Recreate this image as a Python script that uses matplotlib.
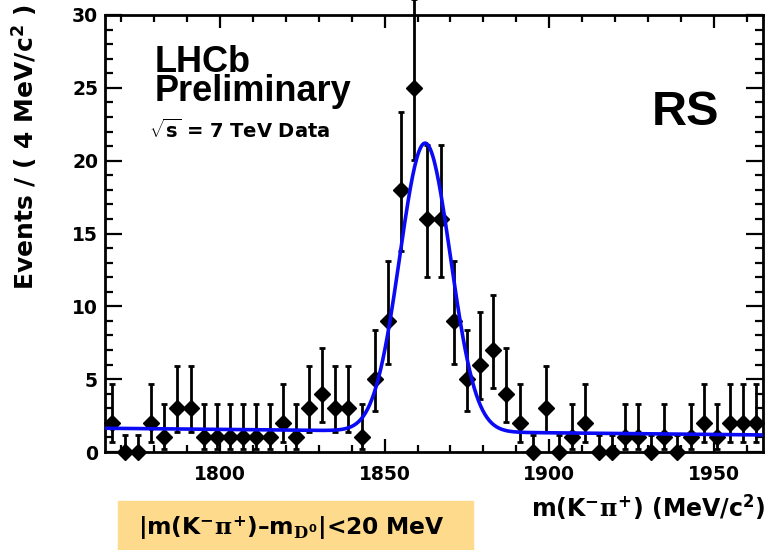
import math
import numpy as np
import matplotlib
matplotlib.use("Agg")
import matplotlib.pyplot as plt
from matplotlib.ticker import MultipleLocator

# events per 4 MeV bin, 1765 - 1965 MeV/c^2
bin_lo = 1765.0
bin_w = 4.0
counts = [2, 0, 0, 2, 1, 3, 3, 1, 1, 1,
          1, 1, 1, 2, 1, 3, 4, 3, 3, 1,
          5, 9, 18, 25, 16, 16, 9, 5, 6, 7,
          4, 2, 0, 3, 0, 1, 2, 0, 0, 1,
          1, 0, 1, 0, 1, 2, 1, 2, 2, 2]

# fitted shape: gaussian signal on a linear background
sig_mean = 1862.3
sig_width = 7.7
sig_amp = 19.8
bkg_at_lo = 1.63
bkg_slope = -0.0023

x_ticks = [1800, 1850, 1900, 1950]
y_ticks = [0, 5, 10, 15, 20, 25, 30]

CL = 0.6827


def pois_cdf(n, mu):
    s = 0.0
    term = math.exp(-mu)
    for k in range(n + 1):
        if k > 0:
            term *= mu / k
        s += term
    return s


def solve(f, a, b):
    # plain bisection, f increasing between a and b
    for _ in range(80):
        m = 0.5 * (a + b)
        if f(m) > 0:
            b = m
        else:
            a = m
    return 0.5 * (a + b)


def pois_interval(n):
    if n == 0:
        return 0.0, -math.log(1 - CL)
    tail = (1 - CL) / 2
    lo = solve(lambda mu: (1 - pois_cdf(n - 1, mu)) - tail, 0.0, n + 5)
    hi = solve(lambda mu: tail - pois_cdf(n, mu), n, n + 10 * math.sqrt(n) + 10)
    return lo, hi


centers = bin_lo + bin_w * (np.arange(len(counts)) + 0.5)
yv = np.array(counts, dtype=float)
err_lo, err_hi = [], []
for n in counts:
    lo, hi = pois_interval(n)
    err_lo.append(n - lo)
    err_hi.append(hi - n)

plt.rcParams['font.family'] = 'DejaVu Sans'
plt.rcParams['font.weight'] = 'bold'
plt.rcParams['mathtext.fontset'] = 'custom'
plt.rcParams['mathtext.rm'] = 'DejaVu Sans:bold'
plt.rcParams['mathtext.bf'] = 'DejaVu Sans:bold'
plt.rcParams['mathtext.it'] = 'DejaVu Serif'

fig = plt.figure(figsize=(7.69, 5.5), dpi=100)
ax = fig.add_axes([105 / 769, 1 - 452 / 550, 658 / 769, 437 / 550])

xx = np.linspace(bin_lo, bin_lo + bin_w * len(counts), 600)
model = bkg_at_lo + bkg_slope * (xx - bin_lo) + sig_amp * np.exp(-0.5 * ((xx - sig_mean) / sig_width) ** 2)

ax.errorbar(centers, yv, yerr=[err_lo, err_hi], fmt='D', color='black', ms=8.5,
            elinewidth=2.0, capsize=2.5, capthick=2.0, clip_on=False, zorder=3)
ax.plot(xx, model, color='#0a0af5', lw=2.6, zorder=4)

ax.set_xlim(bin_lo, bin_lo + bin_w * len(counts))
ax.set_ylim(0, 30)
ax.set_xticks(x_ticks)
ax.set_yticks(y_ticks)
ax.xaxis.set_minor_locator(MultipleLocator(10))
ax.yaxis.set_minor_locator(MultipleLocator(1))
ax.tick_params(which='both', direction='in', top=True, right=True, width=1.6, labelsize=13.5)
ax.tick_params(axis='x', which='major', length=9.5, pad=9)
ax.tick_params(axis='x', which='minor', length=5)
ax.tick_params(axis='y', which='major', length=12, pad=5)
ax.tick_params(axis='y', which='minor', length=6)
for s in ax.spines.values():
    s.set_linewidth(2)

# texts
fig.text(155 / 769, 1 - 101 / 550, 'LHCb\nPreliminary', fontsize=26, family='Liberation Sans',
         linespacing=0.76, ha='left', va='baseline')
fig.text(149 / 769, 1 - 138 / 550, r'$\sqrt{\mathrm{s}}$ = 7 TeV Data', fontsize=14, ha='left', va='baseline')
fig.text(652 / 769, 1 - 125 / 550, 'RS', fontsize=35, family='Liberation Sans', ha='left', va='baseline')

fig.text(24 / 769, 1 - 4 / 550, r'Events / ( 4 MeV/c$^{2}$ )', fontsize=18, rotation=90,
         ha='center', va='top')
fig.text(766 / 769, 1 - 517 / 550, r'm(K$^{-}\pi^{+}$) (MeV/c$^{2}$)', fontsize=17,
         ha='right', va='baseline')

fig.patches.append(plt.Rectangle((118 / 769, 0), (473 - 118) / 769, 49 / 550,
                                 transform=fig.transFigure, color='#fdda8c', zorder=0))
fig.text(138 / 769, 1 - 535 / 550, r'|m(K$^{-}\pi^{+}$)–m$_{D^{0}}$|<20 MeV', fontsize=16.8,
         ha='left', va='baseline')

fig.savefig('out.png', dpi=100)
